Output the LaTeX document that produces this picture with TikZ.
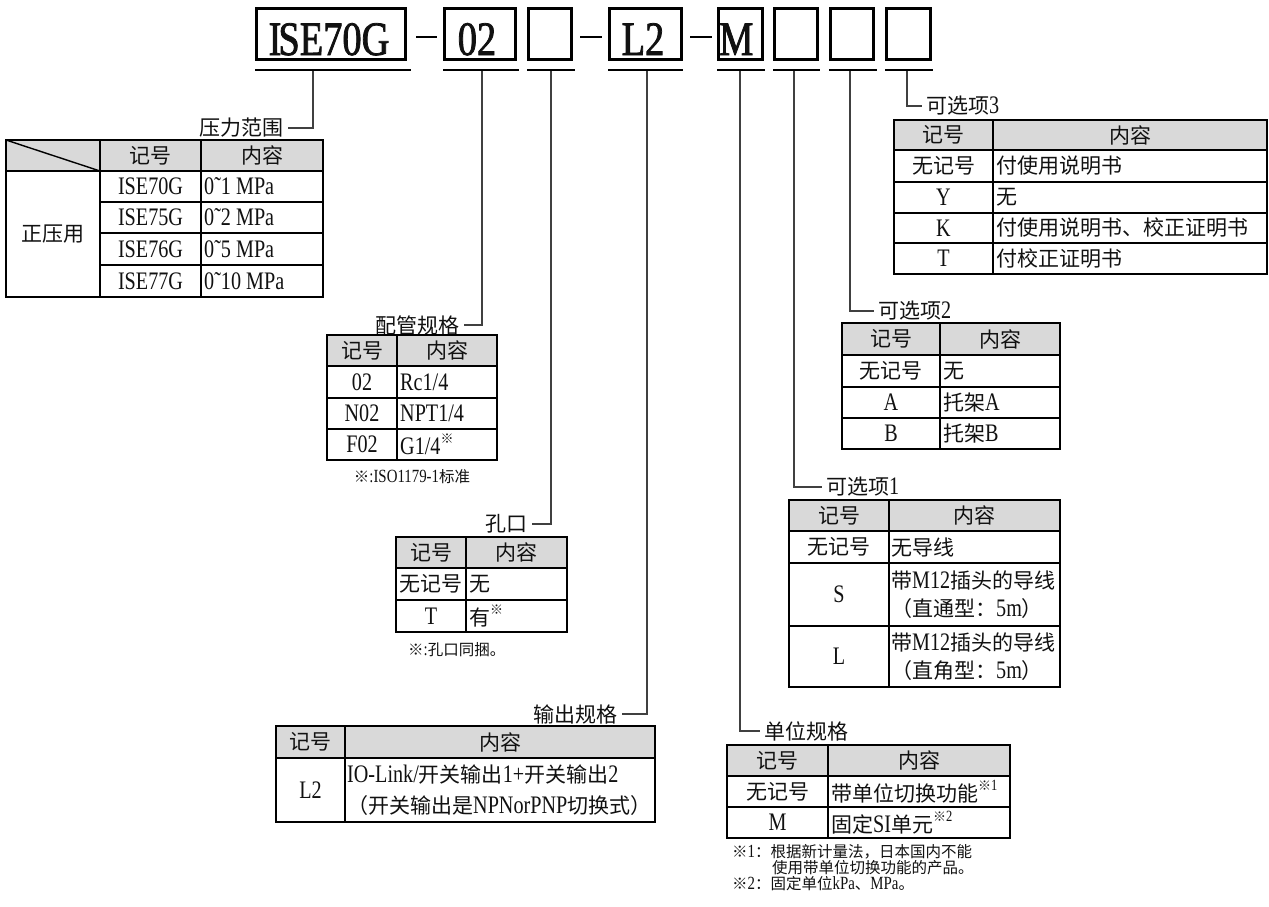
\documentclass[tikz,border=0pt]{standalone}
\usepackage{fontspec}
\setmainfont[FakeStretch=0.8,Scale=1.2]{Liberation Serif}
\newfontfamily\latfont[FakeStretch=0.8,Scale=1.2]{Liberation Serif}
\newfontfamily\bigfont[FakeStretch=0.8,Scale=1.2,FakeBold=1.6]{Liberation Serif}
\newfontfamily\cjkfont{Noto Sans CJK SC}
\XeTeXinterchartokenstate=1
\makeatletter
\count@="3000
\loop
  \XeTeXcharclass\count@=10
  \advance\count@ 1
\ifnum\count@<"A000 \repeat
\count@="FF00
\loop
  \XeTeXcharclass\count@=10
  \advance\count@ 1
\ifnum\count@<"FFF0 \repeat
\XeTeXcharclass"203B=10
\makeatother
\XeTeXinterchartoks 0 10 = {\cjkfont}
\XeTeXinterchartoks 4095 10 = {\cjkfont}
\XeTeXinterchartoks 10 0 = {\latfont}
\XeTeXinterchartoks 10 4095 = {\latfont}
\newcommand\sups[1]{\raisebox{0.42em}{\fontsize{13}{13}\selectfont #1}}
\definecolor{hdr}{HTML}{D9D9D9}
\definecolor{ink}{HTML}{111111}
\tikzset{
  tline/.style={line width=2.6pt, black},
  conn/.style={line width=1.3pt, black!75},
  codebox/.style={draw, line width=3pt, minimum height=51pt, inner sep=0pt},
  uline/.style={line width=2.6pt},
  dashln/.style={line width=2.6pt},
  bigtxt/.style={font=\bigfont\fontsize{40}{40}\selectfont, inner sep=0pt, text=ink},
  cell/.style={font=\fontsize{21}{28}\selectfont, inner sep=0pt, text=ink},
  lab/.style={font=\fontsize{21}{24}\selectfont, inner xsep=4pt, inner ysep=0pt, text=ink},
  note/.style={font=\fontsize{15.5}{18}\selectfont, inner sep=0pt, text=ink},
}
\begin{document}
\begin{tikzpicture}[x=1pt,y=-1pt]
\useasboundingbox (0,0) rectangle (1269,906);
\fill[white] (0,0) rectangle (1269,906);

% ---------- code boxes ----------
\node[codebox, minimum width=149pt] (b1) at (331,34) {};
\node[codebox, minimum width=71pt]  (b2) at (480,34) {};
\node[codebox, minimum width=43pt]  (b3) at (550,34) {};
\node[codebox, minimum width=72pt]  (b4) at (645.5,34) {};
\node[codebox, minimum width=44pt]  (b5) at (740.5,34) {};
\node[codebox, minimum width=43pt]  (b6) at (796,34) {};
\node[codebox, minimum width=43pt]  (b7) at (852,34) {};
\node[codebox, minimum width=44pt]  (b8) at (908.5,34) {};

\node[bigtxt, anchor=base] (c1) at (329,55) {I\kern-3pt SE70G};
\node[bigtxt, anchor=base] (c2) at (477,55) {02};
\node[bigtxt, anchor=base] (c4) at (643,55) {L2};
\node[bigtxt, anchor=base west] (c5) at (719,55) {M};

\draw[dashln] (416,37) -- (437,37);
\draw[dashln] (580,37) -- (602,37);
\draw[dashln] (690,37) -- (712,37);

% underlines
\draw[uline] (255,70) -- (411,70);
\draw[uline] (443,70) -- (519,70);
\draw[uline] (527,70) -- (575,70);
\draw[uline] (608,70) -- (683,70);
\draw[uline] (717,70) -- (765,70);
\draw[uline] (773,70) -- (820,70);
\draw[uline] (829,70) -- (877,70);
\draw[uline] (885,70) -- (933,70);

\coordinate (u1) at (313,71);
\coordinate (u2) at (482,71);
\coordinate (u3) at (551,71);
\coordinate (u4) at (647,71);
\coordinate (u5) at (740,71);
\coordinate (u6) at (794,71);
\coordinate (u7) at (850,71);
\coordinate (u8) at (907,71);

% ---------- labels and connectors ----------
\node[lab, anchor=east] (lab1) at (288,128) {压力范围};
\node[lab, anchor=east] (lab2) at (464,325) {配管规格};
\node[lab, anchor=east] (lab3) at (532,524) {孔口};
\node[lab, anchor=east] (lab4) at (622,714) {输出规格};
\node[lab, anchor=west] (lab5) at (760,731) {单位规格};
\node[lab, anchor=west] (lab6) at (822,487) {可选项1};
\node[lab, anchor=west] (lab7) at (874,311) {可选项2};
\node[lab, anchor=west] (lab8) at (922,106) {可选项3};

\draw[conn] (u1) |- (lab1.east);
\draw[conn] (u2) |- (lab2.east);
\draw[conn] (u3) |- (lab3.east);
\draw[conn] (u4) |- (lab4.east);
\draw[conn] (u5) |- (lab5.west);
\draw[conn] (u6) |- (lab6.west);
\draw[conn] (u7) |- (lab7.west);
\draw[conn] (u8) |- (lab8.west);

% ---------- table 1: pressure range ----------
\fill[hdr] (6,140) rectangle (323,171);
\draw[line width=1.4pt] (6,140) -- (100,171);
\draw[tline] (6,140) rectangle (323,297);
\draw[tline] (6,171) -- (323,171);
\draw[tline] (100,140) -- (100,297);
\draw[tline] (201,140) -- (201,297);
\draw[tline] (100,202) -- (323,202);
\draw[tline] (100,233) -- (323,233);
\draw[tline] (100,265) -- (323,265);
\node[cell] (t1h1) at (150.5,155.5) {记号};
\node[cell] (t1h2) at (262,155.5) {内容};
\node[cell] (t1g) at (53,234) {正压用};
\node[cell] (t1a1) at (150.5,186.5) {ISE70G};
\node[cell] (t1a2) at (150.5,217.5) {ISE75G};
\node[cell] (t1a3) at (150.5,249) {ISE76G};
\node[cell] (t1a4) at (150.5,281) {ISE77G};
\node[cell, anchor=west] (t1b1) at (204,186.5) {0˜1 MPa};
\node[cell, anchor=west] (t1b2) at (204,217.5) {0˜2 MPa};
\node[cell, anchor=west] (t1b3) at (204,249) {0˜5 MPa};
\node[cell, anchor=west] (t1b4) at (204,281) {0˜10 MPa};

% ---------- table 2: piping ----------
\fill[hdr] (327,335) rectangle (497,366);
\draw[tline] (327,335) rectangle (497,460);
\draw[tline] (397,335) -- (397,460);
\draw[tline] (327,366) -- (497,366);
\draw[tline] (327,398) -- (497,398);
\draw[tline] (327,429) -- (497,429);
\node[cell] (t2h1) at (362,350.5) {记号};
\node[cell] (t2h2) at (447,350.5) {内容};
\node[cell] (t2a1) at (362,382) {02};
\node[cell] (t2a2) at (362,413.5) {N02};
\node[cell] (t2a3) at (362,444.5) {F02};
\node[cell, anchor=west] (t2b1) at (400,382) {Rc1/4};
\node[cell, anchor=west] (t2b2) at (400,413.5) {NPT1/4};
\node[cell, anchor=west] (t2b3) at (400,444.5) {G1/4\sups{※}};
\node[note] (t2n) at (412,477) {※:ISO1179-1标准};

% ---------- table 3: orifice ----------
\fill[hdr] (396,537) rectangle (567,568);
\draw[tline] (396,537) rectangle (567,632);
\draw[tline] (466,537) -- (466,632);
\draw[tline] (396,568) -- (567,568);
\draw[tline] (396,600) -- (567,600);
\node[cell] (t3h1) at (431,552.5) {记号};
\node[cell] (t3h2) at (516.5,552.5) {内容};
\node[cell] (t3a1) at (431,584) {无记号};
\node[cell] (t3a2) at (431,616) {T};
\node[cell, anchor=west] (t3b1) at (469,584) {无};
\node[cell, anchor=west] (t3b2) at (469,616) {有\sups{※}};
\node[note, anchor=west] (t3n) at (408,650) {※:孔口同捆。};

% ---------- table 4: output ----------
\fill[hdr] (276,726) rectangle (655,758);
\draw[tline] (276,726) rectangle (655,822);
\draw[tline] (345,726) -- (345,822);
\draw[tline] (276,758) -- (655,758);
\node[cell] (t4h1) at (310.5,742) {记号};
\node[cell] (t4h2) at (500,742) {内容};
\node[cell] (t4a1) at (310.5,790) {L2};
\node[cell, anchor=west, align=left, font=\fontsize{21}{31}\selectfont] (t4b1) at (347,790)
  {IO-Link/开关输出1+开关输出2\\（开关输出是NPNorPNP切换式）};

% ---------- table 5: unit ----------
\fill[hdr] (727,745) rectangle (1010,776);
\draw[tline] (727,745) rectangle (1010,838);
\draw[tline] (828,745) -- (828,838);
\draw[tline] (727,776) -- (1010,776);
\draw[tline] (727,807) -- (1010,807);
\node[cell] (t5h1) at (777.5,760.5) {记号};
\node[cell] (t5h2) at (919,760.5) {内容};
\node[cell] (t5a1) at (777.5,791.5) {无记号};
\node[cell] (t5a2) at (777.5,822.5) {M};
\node[cell, anchor=west] (t5b1) at (831,791.5) {带单位切换功能\sups{※1}};
\node[cell, anchor=west] (t5b2) at (831,822.5) {固定SI单元\sups{※2}};
\node[note, anchor=west] (t5n1) at (732,852) {※1：根据新计量法，日本国内不能};
\node[note, anchor=west] (t5n2) at (772,868) {使用带单位切换功能的产品。};
\node[note, anchor=west] (t5n3) at (732,884) {※2：固定单位kPa、MPa。};

% ---------- table 6: option 1 ----------
\fill[hdr] (789,500) rectangle (1060,531);
\draw[tline] (789,500) rectangle (1060,687);
\draw[tline] (889,500) -- (889,687);
\draw[tline] (789,531) -- (1060,531);
\draw[tline] (789,563) -- (1060,563);
\draw[tline] (789,626) -- (1060,626);
\node[cell] (t6h1) at (839,515.5) {记号};
\node[cell] (t6h2) at (974.5,515.5) {内容};
\node[cell] (t6a1) at (839,547) {无记号};
\node[cell] (t6a2) at (839,594.5) {S};
\node[cell] (t6a3) at (839,656.5) {L};
\node[cell, anchor=west] (t6b1) at (891,547) {无导线};
\node[cell, anchor=west, align=left] (t6b2) at (891,594.5) {带M12插头的导线\\（直通型：5m）};
\node[cell, anchor=west, align=left] (t6b3) at (891,656.5) {带M12插头的导线\\（直角型：5m）};

% ---------- table 7: option 2 ----------
\fill[hdr] (842,323) rectangle (1060,355);
\draw[tline] (842,323) rectangle (1060,449);
\draw[tline] (940,323) -- (940,449);
\draw[tline] (842,355) -- (1060,355);
\draw[tline] (842,387) -- (1060,387);
\draw[tline] (842,418) -- (1060,418);
\node[cell] (t7h1) at (891,339) {记号};
\node[cell] (t7h2) at (1000,339) {内容};
\node[cell] (t7a1) at (891,371) {无记号};
\node[cell] (t7a2) at (891,402.5) {A};
\node[cell] (t7a3) at (891,433.5) {B};
\node[cell, anchor=west] (t7b1) at (943,371) {无};
\node[cell, anchor=west] (t7b2) at (943,402.5) {托架A};
\node[cell, anchor=west] (t7b3) at (943,433.5) {托架B};

% ---------- table 8: option 3 ----------
\fill[hdr] (894,120) rectangle (1267,150);
\draw[tline] (894,120) rectangle (1267,274);
\draw[tline] (993,120) -- (993,274);
\draw[tline] (894,150) -- (1267,150);
\draw[tline] (894,182) -- (1267,182);
\draw[tline] (894,213) -- (1267,213);
\draw[tline] (894,243) -- (1267,243);
\node[cell] (t8h1) at (943.5,135) {记号};
\node[cell] (t8h2) at (1130,135) {内容};
\node[cell] (t8a1) at (943.5,166) {无记号};
\node[cell] (t8a2) at (943.5,197.5) {Y};
\node[cell] (t8a3) at (943.5,228) {K};
\node[cell] (t8a4) at (943.5,258.5) {T};
\node[cell, anchor=west] (t8b1) at (996,166) {付使用说明书};
\node[cell, anchor=west] (t8b2) at (996,197.5) {无};
\node[cell, anchor=west] (t8b3) at (996,228) {付使用说明书、校正证明书};
\node[cell, anchor=west] (t8b4) at (996,258.5) {付校正证明书};
\end{tikzpicture}
\end{document}
